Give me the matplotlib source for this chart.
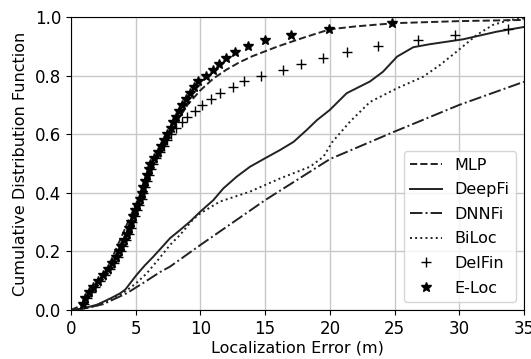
import matplotlib
matplotlib.use("Agg")
import matplotlib.pyplot as plt

# MLP (dashed)
mlp_x = [0, 1, 2, 3, 4, 5, 6, 7, 8, 9, 10, 11, 12, 13, 14, 15, 16, 17, 18, 20, 22, 25, 30, 35]
mlp_y = [0, 0.02, 0.08, 0.16, 0.26, 0.36, 0.46, 0.55, 0.63, 0.70, 0.75, 0.79, 0.82, 0.845, 0.866, 0.883,
         0.90, 0.915, 0.93, 0.958, 0.968, 0.979, 0.986, 0.99]

# DeepFi (solid)
deepfi_x = [0, 1, 2, 2.5, 3.2, 3.8, 4.2, 4.6, 5.07, 5.7, 6.36, 7.0, 7.65, 8.4, 9.2, 10.0, 11.0, 11.77,
            12.8, 13.83, 15.0, 16.15, 17.2, 18.2, 19.0, 20.0, 21.3, 23.1, 24.1, 25.2, 26.45, 27.7, 30.3,
            32.9, 35]
deepfi_y = [0, 0.006, 0.018, 0.028, 0.043, 0.057, 0.07, 0.093, 0.12, 0.152, 0.182, 0.213, 0.245, 0.272,
            0.302, 0.336, 0.375, 0.415, 0.455, 0.489, 0.518, 0.546, 0.574, 0.614, 0.648, 0.683, 0.74,
            0.78, 0.813, 0.865, 0.897, 0.907, 0.924, 0.95, 0.966]

# DNNFi (dash-dot)
dnnfi_x = [0, 1, 2.5, 4.3, 5.5, 6.9, 7.65, 10, 15, 20, 25, 30, 35]
dnnfi_y = [0, 0.005, 0.02, 0.057, 0.09, 0.13, 0.148, 0.222, 0.375, 0.515, 0.609, 0.70, 0.779]

# BiLoc (dotted)
biloc_x = [0, 1, 2, 2.5, 4.0, 5.0, 5.85, 6.8, 7.65, 8.4, 9.45, 10.0, 11.5, 13.83, 16.15, 18.47, 19.5,
           20.2, 21.56, 23.1, 25.2, 27.2, 28.5, 29.8, 31.35, 32.6, 33.9, 35]
biloc_y = [0, 0.005, 0.015, 0.023, 0.057, 0.09, 0.125, 0.175, 0.222, 0.255, 0.31, 0.33, 0.37, 0.404,
           0.449, 0.489, 0.523, 0.574, 0.643, 0.71, 0.757, 0.796, 0.836, 0.882, 0.939, 0.973, 0.99,
           0.995]

# Quantile levels for marker series
levels = [0.02, 0.04, 0.06, 0.08, 0.10, 0.12, 0.14, 0.16, 0.18, 0.20, 0.22, 0.24, 0.26, 0.28, 0.30,
          0.32, 0.34, 0.36, 0.38, 0.40, 0.42, 0.44, 0.46, 0.48, 0.50, 0.52, 0.54, 0.56, 0.58, 0.60,
          0.62, 0.64, 0.66, 0.68, 0.70, 0.72, 0.74, 0.76, 0.78, 0.80, 0.82, 0.84, 0.86, 0.88, 0.90,
          0.92, 0.94, 0.96, 0.98]

# E-Loc (stars)
eloc_x = [0.9, 1.1, 1.4, 1.7, 2.1, 2.5, 2.85, 3.15, 3.45, 3.7, 3.9, 4.1, 4.3, 4.45, 4.6,
          4.8, 4.95, 5.1, 5.3, 5.45, 5.6, 5.75, 5.85, 6.0, 6.1, 6.4, 6.7, 6.95, 7.2, 7.45,
          7.7, 7.9, 8.1, 8.35, 8.6, 8.85, 9.2, 9.5, 9.85, 10.4, 10.95, 11.45, 12.0, 12.7, 13.7,
          15.0, 17.0, 19.9, 24.8]

# DelFin (plus)
delfin_x = [1.0, 1.25, 1.55, 1.85, 2.25, 2.65, 3.0, 3.3, 3.6, 3.85, 4.05, 4.25, 4.45, 4.6, 4.75,
            4.95, 5.1, 5.25, 5.45, 5.6, 5.75, 5.9, 6.0, 6.15, 6.3, 6.6, 6.9, 7.15, 7.45, 7.75,
            8.1, 8.55, 9.0, 9.55, 10.15, 10.8, 11.55, 12.5, 13.4, 14.7, 16.4, 17.8, 19.45, 21.35,
            23.75, 26.8, 29.7, 33.8, 37.0]

fig = plt.figure(figsize=(5.31, 3.59), dpi=100)
ax = fig.add_axes([0.1337, 0.1365, 0.8531, 0.8161])

ax.plot(mlp_x, mlp_y, '--', color='#222222', lw=1.4, label='MLP')
ax.plot(deepfi_x, deepfi_y, '-', color='#222222', lw=1.4, label='DeepFi')
ax.plot(dnnfi_x, dnnfi_y, '-.', color='#222222', lw=1.4, label='DNNFi')
ax.plot(biloc_x, biloc_y, ':', color='#222222', lw=1.4, label='BiLoc')
ax.plot(delfin_x, levels, '+', color='black', ms=7, mew=1.0, linestyle='none', label='DelFin')
ax.plot(eloc_x, levels, '*', color='black', ms=7, linestyle='none', label='E-Loc')

ax.set_xlim(0, 35)
ax.set_ylim(0, 1)
ax.set_xticks([0, 5, 10, 15, 20, 25, 30, 35])
ax.set_yticks([0, 0.2, 0.4, 0.6, 0.8, 1.0])
ax.grid(True, color='#c8c8c8', lw=1.0)
ax.set_axisbelow(True)
ax.tick_params(labelsize=12)
ax.set_xlabel('Localization Error (m)', fontsize=11.5, labelpad=2)
ax.set_ylabel('Cumulative Distribution Function', fontsize=11.5, labelpad=5)
ax.legend(loc='lower right', fontsize=11.5, handlelength=2.0, labelspacing=0.6)

fig.savefig('out.png', dpi=100)
